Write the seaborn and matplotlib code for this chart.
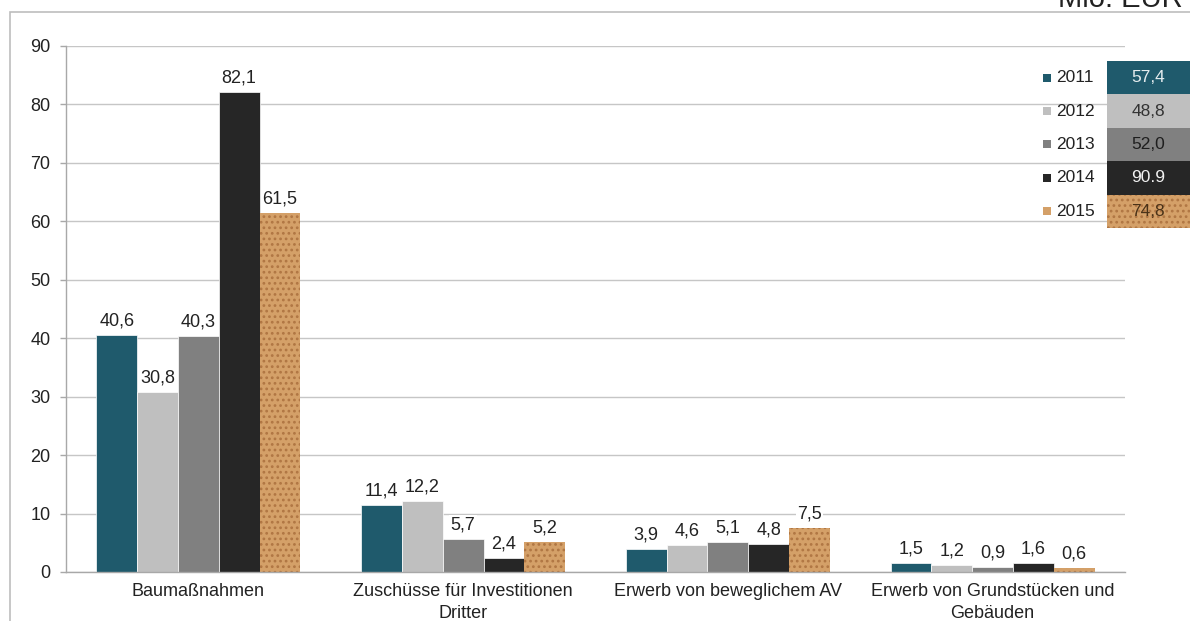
import matplotlib
matplotlib.use("Agg")
import matplotlib.pyplot as plt
from matplotlib.patches import Rectangle
import pandas as pd
import seaborn as sns

# Investitionsausgaben nach Art, Mio. EUR
categories = [
    "Baumaßnahmen",
    "Zuschüsse für Investitionen\nDritter",
    "Erwerb von beweglichem AV",
    "Erwerb von Grundstücken und\nGebäuden",
]
years = ["2011", "2012", "2013", "2014", "2015"]
v2011 = [40.6, 11.4, 3.9, 1.5]
v2012 = [30.8, 12.2, 4.6, 1.2]
v2013 = [40.3, 5.7, 5.1, 0.9]
v2014 = [82.1, 2.4, 4.8, 1.6]
v2015 = [61.5, 5.2, 7.5, 0.6]
total_sep = [",", ",", ",", ".", ","]

series = [v2011, v2012, v2013, v2014, v2015]
colors = ["#1f5a6c", "#bfbfbf", "#808080", "#262626", "#d4a068"]
cell_text = ["#e4ecee", "#333333", "#1e1e1e", "#f2f2f2", "#4a3218"]
cork_speck = "#b07643"

df = pd.DataFrame(
    [(c, y, v) for y, vals in zip(years, series) for c, v in zip(categories, vals)],
    columns=["Kategorie", "Jahr", "Wert"],
)

sns.set_theme(style="white")
plt.rcParams["font.family"] = ["Liberation Sans", "DejaVu Sans"]
plt.rcParams["hatch.linewidth"] = 1.2

W, H = 1190, 621
fig = plt.figure(figsize=(W / 100, H / 100), dpi=100)
fx = lambda x: x / W
fy = lambda y: 1 - y / H

ax = fig.add_axes([fx(66), fy(572), fx(1125) - fx(66), fy(46) - fy(572)])

sns.barplot(
    data=df, x="Kategorie", y="Wert", hue="Jahr", order=categories,
    hue_order=years, palette=colors, saturation=1, width=0.77, gap=0,
    legend=False, ax=ax, errorbar=None, linewidth=0.5, edgecolor="white",
)

# cork-like speckle on the 2015 bars
for p in ax.containers[4]:
    p.set_edgecolor(cork_speck)
    p.set_linewidth(0)
    p.set_hatch("...")

for cont, vals in zip(ax.containers, series):
    ax.bar_label(
        cont, labels=[f"{v:.1f}".replace(".", ",") for v in vals], padding=4,
        fontsize=13, color="#222222",
        bbox=dict(boxstyle="square,pad=0.08", fc="white", ec="none"),
    )

ax.set_xlim(-0.5, len(categories) - 0.5)
ax.set_ylim(0, 90)
ax.set_yticks(range(0, 91, 10))
ax.set_axisbelow(True)
ax.yaxis.grid(True, color="#c6c6c6", lw=1.0)
ax.xaxis.grid(False)
ax.set_xlabel("")
ax.set_ylabel("")
for s in ["top", "right"]:
    ax.spines[s].set_visible(False)
for s in ["left", "bottom"]:
    ax.spines[s].set_color("#a8a8a8")
    ax.spines[s].set_linewidth(1.0)

ax.set_xticks([i - 0.5 for i in range(len(categories) + 1)], minor=True)
ax.tick_params(axis="x", which="major", length=0, pad=8, labelsize=13,
               labelcolor="#222222")
ax.tick_params(axis="x", which="minor", length=4, color="#a8a8a8", width=1)
ax.tick_params(axis="y", length=4.3, color="#a8a8a8", width=1, pad=7,
               labelsize=13, labelcolor="#222222", left=True)
for lab in ax.get_xticklabels():
    lab.set_linespacing(1.35)

# outer frame and unit
fig.add_artist(Rectangle((fx(10), fy(800)), fx(1400) - fx(10), fy(12) - fy(800),
                         transform=fig.transFigure, fill=False,
                         edgecolor="#bdbdbd", lw=1.2))
fig.text(fx(1183), fy(7), "Mio. EUR", ha="right", va="baseline",
         fontsize=21, color="#222222")

# legend with yearly totals
row_top, row_h = 61, 33.4
for i, (yr, vals) in enumerate(zip(years, series)):
    top = row_top + i * row_h
    cy = top + row_h / 2
    fig.add_artist(Rectangle((fx(1043), fy(cy + 4)), fx(8), 8 / H,
                             transform=fig.transFigure, facecolor=colors[i],
                             edgecolor="none"))
    fig.text(fx(1056), fy(cy), yr, ha="left", va="center", fontsize=12.5,
             color="#222222")
    cell = Rectangle((fx(1107), fy(top + row_h)), fx(100), row_h / H,
                     transform=fig.transFigure, facecolor=colors[i],
                     edgecolor="none", lw=0)
    if i == 4:
        cell.set_edgecolor(cork_speck)
        cell.set_hatch("...")
    fig.add_artist(cell)
    total = f"{sum(vals):.1f}".replace(".", total_sep[i])
    fig.text(fx(1148), fy(cy), total, ha="center", va="center",
             fontsize=12.5, color=cell_text[i])

fig.savefig("out.png", dpi=100)
